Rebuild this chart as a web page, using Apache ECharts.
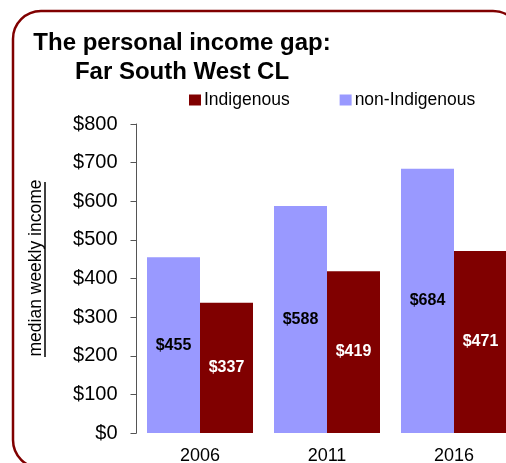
<!DOCTYPE html>
<html>
<head>
<meta charset="utf-8">
<script src="https://cdn.jsdelivr.net/npm/echarts@6/dist/echarts.min.js"></script>
<style>
  html, body { margin: 0; padding: 0; background: #fff; }
  #chart { width: 506px; height: 463px; }
</style>
</head>
<body>
<div id="chart"></div>
<script>
const years = ['2006', '2011', '2016']
const nonIndigenous = [455, 588, 684]
const indigenous = [337, 419, 471]
const yTicks = [0, 100, 200, 300, 400, 500, 600, 700, 800]

const sans = '"Liberation Sans", Arial, sans-serif'

const chart = echarts.init(document.getElementById('chart'), null, { renderer: 'canvas' })

chart.setOption({
  animation: false,
  backgroundColor: '#fff',
  title: {
    text: 'The personal income gap:\nFar South West CL',
    left: 177,
    top: 24,
    textAlign: 'center',
    textStyle: {
      fontFamily: sans,
      fontWeight: 'bold',
      fontSize: 24,
      lineHeight: 29,
      color: '#000',
      align: 'center',
    },
  },
  legend: {
    data: ['Indigenous', 'non-Indigenous'],
    left: 184,
    top: 86,
    width: 400,
    icon: 'rect',
    itemWidth: 12,
    itemHeight: 11,
    itemGap: 50,
    textStyle: { fontFamily: sans, fontSize: 17.5, color: '#000', padding: [0, 0, 0, -2] },
  },
  grid: { left: 136.5, top: 124, width: 381, height: 309, outerBoundsMode: 'none' },
  xAxis: {
    type: 'category',
    data: years,
    axisLine: { show: false },
    axisTick: { show: false },
    axisLabel: { fontFamily: sans, fontSize: 18, color: '#000', margin: 14 },
  },
  yAxis: {
    type: 'value',
    min: 0,
    max: 800,
    interval: 100,
    splitLine: { show: false },
    axisLine: { show: true, lineStyle: { color: '#555', width: 1 } },
    axisTick: { show: true, length: 6, lineStyle: { color: '#555' } },
    axisLabel: {
      fontFamily: sans,
      fontSize: 20,
      color: '#000',
      margin: 19,
      formatter: v => (yTicks.includes(v) ? '$' + v : ''),
    },
  },
  series: [
    {
      name: 'non-Indigenous',
      type: 'bar',
      data: nonIndigenous,
      barWidth: 53,
      barGap: '0%',
      itemStyle: { color: '#9999FF' },
      label: {
        show: true,
        position: 'inside',
        formatter: '${c}',
        fontFamily: sans,
        fontWeight: 'bold',
        fontSize: 16,
        color: '#000',
      },
    },
    {
      name: 'Indigenous',
      type: 'bar',
      data: indigenous,
      barWidth: 53,
      itemStyle: { color: '#800000' },
      label: {
        show: true,
        position: 'inside',
        formatter: '${c}',
        fontFamily: sans,
        fontWeight: 'bold',
        fontSize: 16,
        color: '#fff',
      },
    },
  ],
  graphic: [
    // rounded frame
    {
      type: 'rect',
      shape: { x: 13, y: 11, width: 508, height: 457, r: 28 },
      style: { fill: null, stroke: '#800000', lineWidth: 2.5 },
      silent: true,
    },
    // y axis title, underlined
    {
      type: 'text',
      x: 36,
      y: 268,
      rotation: Math.PI / 2,
      style: {
        text: 'median weekly income',
        fontFamily: sans,
        fontSize: 17.5,
        fill: '#000',
        align: 'center',
        verticalAlign: 'middle',
      },
      silent: true,
    },
    {
      type: 'line',
      shape: { x1: 45, y1: 182, x2: 45, y2: 357 },
      style: { stroke: '#000', lineWidth: 1.5 },
      silent: true,
    },
  ],
})
</script>
</body>
</html>
